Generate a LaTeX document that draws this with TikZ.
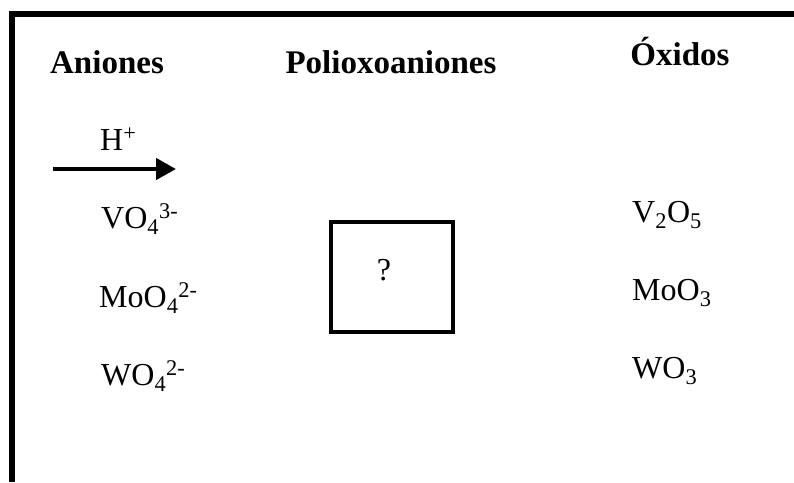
\documentclass[tikz,border=0pt]{standalone}
\usepackage{fontspec}
\setmainfont{Liberation Serif}
\usetikzlibrary{arrows.meta}
\begin{document}
\begin{tikzpicture}[x=1pt,y=-1pt,
  title/.style={font=\fontsize{33}{38}\selectfont\bfseries, inner sep=0pt, anchor=base},
  chem/.style={font=\fontsize{32}{38}\selectfont, inner sep=0pt, anchor=base west},
  frame/.style={line width=6pt, line join=miter},
  qbox/.style={draw, line width=4.5pt, minimum width=122pt, minimum height=110pt, inner sep=0pt}
]
\useasboundingbox (0,0) rectangle (794,482);
\coordinate (fb) at (12,482);
\coordinate (fc) at (12,14);
\coordinate (fr) at (794,14);
\draw[frame] (fb) -- (fc) -- (fr);

\node[title] (t1) at (107,73) {Aniones};
\node[title] (t2) at (391,73) {Polioxoaniones};
\node[title] (t3) at (680,65) {Óxidos};

\node[chem] (h) at (100,150) {H\textsuperscript{+}};
\coordinate (a1) at (53,169);
\coordinate (a2) at (176,169);
\draw[line width=4.5pt, -{Triangle[length=20pt,width=21pt]}] (a1) -- (a2);

\node[chem] (v) at (101,228) {VO\textsubscript{4}\textsuperscript{3-}};
\node[chem] (mo) at (99,307) {MoO\textsubscript{4}\textsuperscript{2-}};
\node[chem] (w) at (101,385) {WO\textsubscript{4}\textsuperscript{2-}};

\node[qbox] (box) at (392,277) {};
\node[chem, anchor=base] (q) at (384,280) {?};

\node[chem] (v2) at (632,222) {V\textsubscript{2}O\textsubscript{5}};
\node[chem] (mo3) at (632,300) {MoO\textsubscript{3}};
\node[chem] (w3) at (632,378) {WO\textsubscript{3}};
\end{tikzpicture}
\end{document}
